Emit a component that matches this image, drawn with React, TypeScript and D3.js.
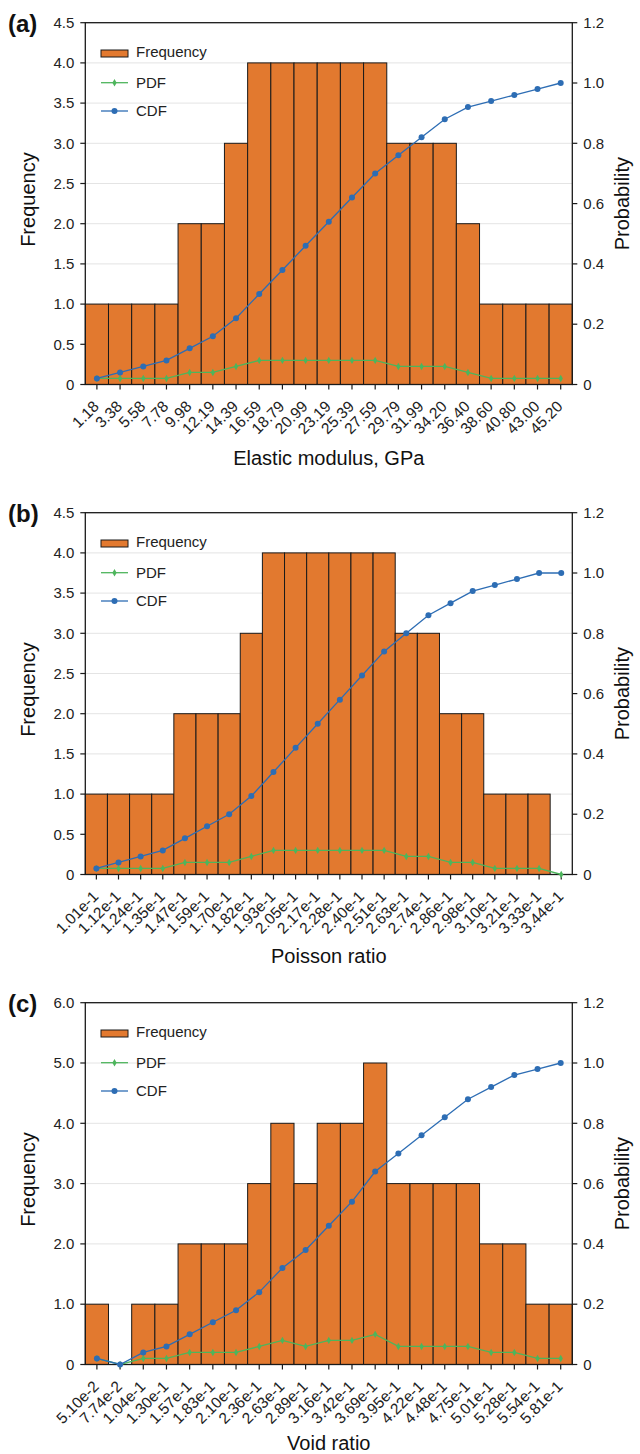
import React from "react";
import * as d3 from "d3";

// ---------- data ----------
const elasticLabels = ["1.18","3.38","5.58","7.78","9.98","12.19","14.39","16.59","18.79","20.99","23.19","25.39","27.59","29.79","31.99","34.20","36.40","38.60","40.80","43.00","45.20"];
const elasticFreq = [1,1,1,1,2,2,3,4,4,4,4,4,4,3,3,3,2,1,1,1,1];
const elasticPdf = [0.02,0.02,0.02,0.02,0.04,0.04,0.06,0.08,0.08,0.08,0.08,0.08,0.08,0.06,0.06,0.06,0.04,0.02,0.02,0.02,0.02];
const elasticCdf = [0.02,0.04,0.06,0.08,0.12,0.16,0.22,0.30,0.38,0.46,0.54,0.62,0.70,0.76,0.82,0.88,0.92,0.94,0.96,0.98,1.00];

const poissonLabels = ["1.01e-1","1.12e-1","1.24e-1","1.35e-1","1.47e-1","1.59e-1","1.70e-1","1.82e-1","1.93e-1","2.05e-1","2.17e-1","2.28e-1","2.40e-1","2.51e-1","2.63e-1","2.74e-1","2.86e-1","2.98e-1","3.10e-1","3.21e-1","3.33e-1","3.44e-1"];
const poissonFreq = [1,1,1,1,2,2,2,3,4,4,4,4,4,4,3,3,2,2,1,1,1,0];
const poissonPdf = [0.02,0.02,0.02,0.02,0.04,0.04,0.04,0.06,0.08,0.08,0.08,0.08,0.08,0.08,0.06,0.06,0.04,0.04,0.02,0.02,0.02,0];
const poissonCdf = [0.02,0.04,0.06,0.08,0.12,0.16,0.20,0.26,0.34,0.42,0.50,0.58,0.66,0.74,0.80,0.86,0.90,0.94,0.96,0.98,1.00,1.00];

const voidLabels = ["5.10e-2","7.74e-2","1.04e-1","1.30e-1","1.57e-1","1.83e-1","2.10e-1","2.36e-1","2.63e-1","2.89e-1","3.16e-1","3.42e-1","3.69e-1","3.95e-1","4.22e-1","4.48e-1","4.75e-1","5.01e-1","5.28e-1","5.54e-1","5.81e-1"];
const voidFreq = [1,0,1,1,2,2,2,3,4,3,4,4,5,3,3,3,3,2,2,1,1];
const voidPdf = [0.02,0,0.02,0.02,0.04,0.04,0.04,0.06,0.08,0.06,0.08,0.08,0.10,0.06,0.06,0.06,0.06,0.04,0.04,0.02,0.02];
const voidCdf = [0.02,0,0.04,0.06,0.10,0.14,0.18,0.24,0.32,0.38,0.46,0.54,0.64,0.70,0.76,0.82,0.88,0.92,0.96,0.98,1.00];

const leftTicksAB = [0,0.5,1,1.5,2,2.5,3,3.5,4,4.5];
const leftTicksC = [0,1,2,3,4,5,6];
const rightTicks = [0,0.2,0.4,0.6,0.8,1.0,1.2];

// ---------- style ----------
const FONT = "Liberation Sans, Arial, Helvetica, sans-serif";
const BAR = "#E2792F";
const BLUE = "#2D6DB4";
const GREEN = "#4DB55C";
const DARK = "#1a1a1a";
const GRID = "#e4e4e4";

const X0 = 85.3;
const X1 = 572.3;
const PH = 361.8;

type PanelProps = {
  top: number;
  tag: string;
  labels: string[];
  freq: number[];
  pdf: number[];
  cdf: number[];
  leftTicks: number[];
  leftMax: number;
  title: string;
  titleOffset: number;
};

function fmt(v: number) {
  return v === 0 ? "0" : v.toFixed(1);
}

function Panel(p: PanelProps) {
  const bottom = p.top + PH;
  const x = d3.scaleBand<string>().domain(p.labels).range([X0, X1]).padding(0);
  const yL = d3.scaleLinear().domain([0, p.leftMax]).range([bottom, p.top]);
  const yR = d3.scaleLinear().domain([0, 1.2]).range([bottom, p.top]);
  const cx = (i: number) => (x(p.labels[i]) as number) + x.bandwidth() / 2;
  const line = d3
    .line<number>()
    .x((_, i) => cx(i))
    .y((d) => yR(d));
  const diamond = d3.symbol().type(d3.symbolDiamond).size(16)() as string;
  const midY = (p.top + bottom) / 2;
  return (
    <g fontFamily={FONT}>
      {/* grid */}
      {p.leftTicks
        .filter((t) => t > 0 && t < p.leftMax)
        .map((t) => (
          <line key={"g" + t} x1={X0} x2={X1} y1={yL(t)} y2={yL(t)} stroke={GRID} strokeWidth={1} />
        ))}
      {/* bars */}
      {p.freq.map((f, i) =>
        f > 0 ? (
          <rect
            key={"b" + i}
            x={x(p.labels[i]) as number}
            y={yL(f)}
            width={x.bandwidth()}
            height={bottom - yL(f)}
            fill={BAR}
            stroke={DARK}
            strokeWidth={1}
          />
        ) : null
      )}
      {/* frame */}
      <rect x={X0} y={p.top} width={X1 - X0} height={PH} fill="none" stroke={DARK} strokeWidth={1.3} />
      {/* left ticks */}
      {p.leftTicks.map((t) => (
        <g key={"l" + t}>
          <line x1={X0 - 5} x2={X0} y1={yL(t)} y2={yL(t)} stroke={DARK} strokeWidth={1.2} />
          <text x={X0 - 11} y={yL(t)} dy="0.35em" textAnchor="end" fontSize={15} fill="#222">
            {fmt(t)}
          </text>
        </g>
      ))}
      {/* right ticks */}
      {rightTicks.map((t) => (
        <g key={"r" + t}>
          <line x1={X1} x2={X1 + 5} y1={yR(t)} y2={yR(t)} stroke={DARK} strokeWidth={1.2} />
          <text x={X1 + 11} y={yR(t)} dy="0.35em" textAnchor="start" fontSize={15} fill="#222">
            {fmt(t)}
          </text>
        </g>
      ))}
      {/* bottom ticks + labels */}
      {p.labels.map((lab, i) => (
        <g key={"x" + i}>
          <line x1={cx(i)} x2={cx(i)} y1={bottom} y2={bottom + 5} stroke={DARK} strokeWidth={1.2} />
          <text
            transform={`translate(${cx(i) + 3},${bottom + 23}) rotate(-45)`}
            textAnchor="end"
            fontSize={15.5}
            fill="#222"
          >
            {lab}
          </text>
        </g>
      ))}
      {/* PDF */}
      <path d={line(p.pdf) as string} fill="none" stroke={GREEN} strokeWidth={1.3} />
      {p.pdf.map((v, i) => (
        <path key={"pd" + i} d={diamond} transform={`translate(${cx(i)},${yR(v)})`} fill={GREEN} />
      ))}
      {/* CDF */}
      <path d={line(p.cdf) as string} fill="none" stroke={BLUE} strokeWidth={1.3} />
      {p.cdf.map((v, i) => (
        <circle key={"cd" + i} cx={cx(i)} cy={yR(v)} r={3} fill={BLUE} />
      ))}
      {/* legend */}
      <rect x={101} y={p.top + 27.3} width={27} height={7} fill={BAR} stroke={DARK} strokeWidth={1} />
      <text x={136} y={p.top + 34.7} fontSize={15} fill="#222">Frequency</text>
      <line x1={101} x2={128} y1={p.top + 60} y2={p.top + 60} stroke={GREEN} strokeWidth={1.3} />
      <path d={diamond} transform={`translate(114.5,${p.top + 60})`} fill={GREEN} />
      <text x={136} y={p.top + 65.3} fontSize={15} fill="#222">PDF</text>
      <line x1={101} x2={128} y1={p.top + 88.3} y2={p.top + 88.3} stroke={BLUE} strokeWidth={1.3} />
      <circle cx={114.5} cy={p.top + 88.3} r={3} fill={BLUE} />
      <text x={136} y={p.top + 93.7} fontSize={15} fill="#222">CDF</text>
      {/* axis titles */}
      <text transform={`translate(35,${midY - 4}) rotate(-90)`} textAnchor="middle" fontSize={20} fill="#111">
        Frequency
      </text>
      <text transform={`translate(629,${midY}) rotate(-90)`} textAnchor="middle" fontSize={20} fill="#111">
        Probability
      </text>
      <text x={(X0 + X1) / 2} y={bottom + p.titleOffset} textAnchor="middle" fontSize={20} fill="#111">
        {p.title}
      </text>
      {/* panel tag */}
      <text x={8} y={p.top + 9} fontSize={24} fontWeight="bold" fill="#111">
        {p.tag}
      </text>
    </g>
  );
}

export default function App() {
  return (
    <svg
      width={640}
      height={1454}
      style={{ position: "absolute", left: 0, top: 0, background: "#fff" }}
    >
      <rect width={640} height={1454} fill="#fff" />
      <Panel top={22.7} tag="(a)" labels={elasticLabels} freq={elasticFreq} pdf={elasticPdf} cdf={elasticCdf}
        leftTicks={leftTicksAB} leftMax={4.5} title="Elastic modulus, GPa" titleOffset={80} />
      <Panel top={512.7} tag="(b)" labels={poissonLabels} freq={poissonFreq} pdf={poissonPdf} cdf={poissonCdf}
        leftTicks={leftTicksAB} leftMax={4.5} title="Poisson ratio" titleOffset={88} />
      <Panel top={1002.7} tag="(c)" labels={voidLabels} freq={voidFreq} pdf={voidPdf} cdf={voidCdf}
        leftTicks={leftTicksC} leftMax={6} title="Void ratio" titleOffset={85.5} />
    </svg>
  );
}
